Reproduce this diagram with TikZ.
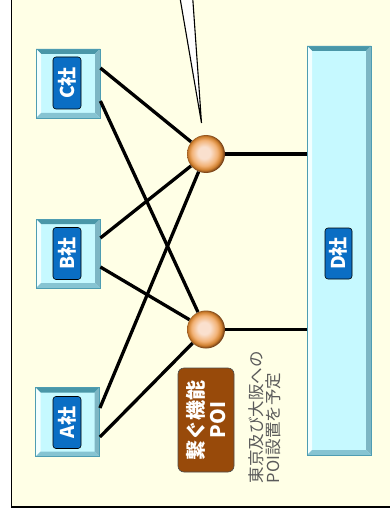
\documentclass[tikz,border=0pt]{standalone}
\usepackage{fontspec}
\newfontfamily\jp{Noto Sans CJK JP}
\definecolor{bg}{HTML}{FFFFE6}
\definecolor{face}{HTML}{C6F9FF}
\definecolor{bevedge}{HTML}{4E9DB2}
\definecolor{bevtop}{HTML}{4A97A8}
\definecolor{bevleft}{HTML}{F2FFFF}
\definecolor{bevright}{HTML}{7DB6C4}
\definecolor{bevbot}{HTML}{86C4D2}
\definecolor{lblblue}{HTML}{0A6EC4}
\definecolor{brown}{HTML}{984A0A}
\definecolor{graytxt}{HTML}{5A5A5A}
\definecolor{orbA}{HTML}{FAE0CE}
\definecolor{orbB}{HTML}{F2B276}
\definecolor{orbC}{HTML}{D0802E}
\definecolor{orbD}{HTML}{7A4418}
\pgfdeclareradialshading{orb}{\pgfpoint{-3bp}{2bp}}{color(0bp)=(orbA); color(8bp)=(orbA); color(17bp)=(orbB); color(22bp)=(orbC); color(25bp)=(orbD); color(50bp)=(orbD)}
\tikzset{
  bevelbox/.style={draw=bevedge, line width=0.8pt, fill=face, inner sep=0pt,
    path picture={
      \coordinate (nw) at (path picture bounding box.north west);
      \coordinate (ne) at (path picture bounding box.north east);
      \coordinate (sw) at (path picture bounding box.south west);
      \coordinate (se) at (path picture bounding box.south east);
      \fill[bevtop] (nw) -- (ne) -- ([shift={(-5pt,-5pt)}]ne) -- ([shift={(5pt,-5pt)}]nw) -- cycle;
      \fill[bevleft] (nw) -- (sw) -- ([shift={(5pt,5pt)}]sw) -- ([shift={(5pt,-5pt)}]nw) -- cycle;
      \fill[bevright] (ne) -- (se) -- ([shift={(-5pt,5pt)}]se) -- ([shift={(-5pt,-5pt)}]ne) -- cycle;
      \fill[bevbot] (sw) -- (se) -- ([shift={(-5pt,5pt)}]se) -- ([shift={(5pt,5pt)}]sw) -- cycle;
    }},
  smallbox/.style={bevelbox, minimum width=64pt, minimum height=69pt},
  lbl/.style={draw=black, line width=0.6pt, fill=lblblue, rounded corners=3pt, rotate=90,
    minimum width=52pt, minimum height=28pt, inner sep=0pt, text=white,
    font=\jp\bfseries\fontsize{19}{21}\selectfont},
  orbnode/.style={circle, minimum size=38pt, inner sep=0pt, shading=orb},
  link/.style={line width=3.3pt, black},
}
\begin{document}
\begin{tikzpicture}[x=1pt, y=-1pt]
\useasboundingbox (0,0) rectangle (390,513);
\begin{scope}
\clip (0,0) rectangle (390,513);
% background panel
\draw[fill=bg, line width=1.3pt] (11.5,-5) rectangle (400,507);
% callout wedge
\coordinate (tip) at (201.5,123);
\draw[fill=white, line width=1.1pt, line join=miter] (179.5,-5) -- (tip) -- (192.5,-5);

% company boxes
\node[smallbox] (C) at (68,83.5) {};
\node[smallbox] (B) at (68,253.5) {};
\node[smallbox] (A) at (67.5,422) {};
\node[bevelbox, minimum width=64pt, minimum height=409pt] (D) at (339,250.5) {};
\node[lbl] (Cl) at (67,83) {C社};
\node[lbl] (Bl) at (67,253.5) {B社};
\node[lbl] (Al) at (67,422.5) {A社};
\node[lbl, minimum height=27pt, minimum width=51pt] (Dl) at (338.5,253.5) {D社};

% POI spheres
\node[orbnode] (P1) at (206,154) {};
\node[orbnode] (P2) at (206,329.5) {};

% links
\draw[link] ([yshift=15.5pt]C.east) -- (P1);
\draw[link] ([yshift=-17.5pt]C.east) -- (P2);
\draw[link] ([yshift=15.5pt]B.east) -- (P1);
\draw[link] ([yshift=-13.5pt]B.east) -- (P2);
\draw[link] ([yshift=14pt]A.east) -- (P1);
\draw[link] ([yshift=-15pt]A.east) -- (P2);
\draw[link] (P1) -- (P1 -| D.west);
\draw[link] (P2) -- (P2 -| D.west);

% POI label
\node[draw=black!70, line width=0.6pt, fill=brown, rounded corners=6pt, rotate=90,
  minimum width=104pt, minimum height=56pt, inner sep=0pt, text=white, align=center,
  font=\jp\bfseries\fontsize{20}{22}\selectfont] (poi) at (206,420) {繋ぐ機能\\POI};

% note
\node[rotate=90, align=left, text=graytxt, inner sep=0pt,
  font=\jp\fontsize{16.5}{17.5}\selectfont] (note) at (265,417) {東京及び大阪への\\POI設置を予定};
\end{scope}
\end{tikzpicture}
\end{document}
